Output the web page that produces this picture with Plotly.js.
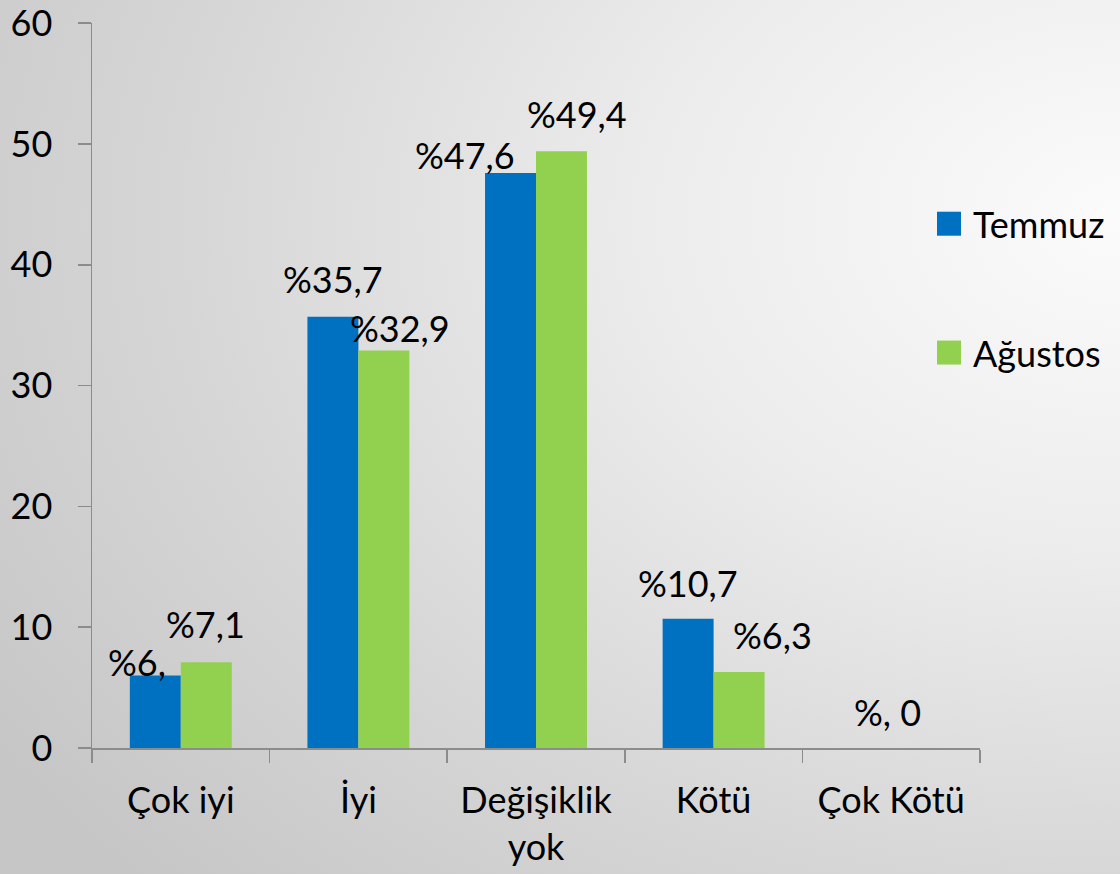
<!DOCTYPE html>
<html>
<head>
<meta charset="utf-8">
<script src="https://cdn.plot.ly/plotly-3.0.1.min.js"></script>
<style>
html, body { margin: 0; padding: 0; width: 1120px; height: 874px; overflow: hidden; }
body { background: radial-gradient(ellipse 120% 110% at 100% 25%, #fbfbfb 0%, #ececec 35%, #d6d6d6 70%, #c6c6c6 100%); }
#chart { width: 1120px; height: 874px; }
</style>
</head>
<body>
<div id="chart"></div>
<script>
// ---- data ----
const categories = ["Çok iyi", "İyi", "Değişiklik<br>yok", "Kötü", "Çok Kötü"];
const seriesNames = ["Temmuz", "Ağustos"];
const temmuz = [6.0, 35.7, 47.6, 10.7, 0];
const agustos = [7.1, 32.9, 49.4, 6.3, 0];
const labelsTemmuz = ["%6,", "%35,7", "%47,6", "%10,7", "%, 0"];
const labelsAgustos = ["%7,1", "%32,9", "%49,4", "%6,3", ""];
const yTicks = [0, 10, 20, 30, 40, 50, 60];

// ---- style ----
const colors = ["#0070C0", "#92D050"];
const FONT = "Lato, 'Open Sans', sans-serif";
const FS = 36;
const axisColor = "#8c8c8c";
// label offsets (pixels): horizontal shift from category centre, lift above bar top
const offT = { dx: [-44, -25, -71, -26, -4], dy: [14, 38, 18, 36, 36] };
const offA = { dx: [25, 42, 41, 59, 0], dy: [38, 23, 37, 37, 0] };

const traces = [
  { type: "bar", name: seriesNames[0], x: categories, y: temmuz, marker: { color: colors[0] }, showlegend: false, hoverinfo: "skip" },
  { type: "bar", name: seriesNames[1], x: categories, y: agustos, marker: { color: colors[1] }, showlegend: false, hoverinfo: "skip" }
];

const annotations = [];
function addLabels(vals, labels, off) {
  vals.forEach((v, i) => {
    if (!labels[i]) return;
    annotations.push({
      x: categories[i], y: v, xref: "x", yref: "y",
      text: labels[i], showarrow: false,
      xanchor: "center", yanchor: "middle",
      xshift: off.dx[i], yshift: off.dy[i],
      font: { family: FONT, size: FS, color: "#000" }
    });
  });
}
addLabels(temmuz, labelsTemmuz, offT);
addLabels(agustos, labelsAgustos, offA);

// manual legend (large square markers)
const legY = [[0.7066, 0.7397], [0.5289, 0.5620]];
const shapes = [];
seriesNames.forEach((n, k) => {
  shapes.push({
    type: "rect", xref: "paper", yref: "paper",
    x0: 0.9516, x1: 0.9786, y0: legY[k][0], y1: legY[k][1],
    fillcolor: colors[k], line: { width: 0 }
  });
  annotations.push({
    xref: "paper", yref: "paper", x: 0.99, y: (legY[k][0] + legY[k][1]) / 2,
    xanchor: "left", yanchor: "middle", showarrow: false, text: n,
    font: { family: FONT, size: FS, color: "#000" }
  });
});

const layout = {
  width: 1120, height: 874,
  margin: { l: 92, r: 140, t: 23, b: 126, pad: 0 },
  paper_bgcolor: "rgba(0,0,0,0)",
  plot_bgcolor: "rgba(0,0,0,0)",
  barmode: "group",
  bargap: 0.426,
  bargroupgap: 0,
  showlegend: false,
  font: { family: FONT, size: FS, color: "#000" },
  xaxis: {
    type: "category",
    showline: true, linecolor: axisColor, linewidth: 1.5,
    ticks: "outside", tickson: "boundaries", ticklen: 13, tickcolor: axisColor, tickwidth: 1.5,
    tickfont: { family: FONT, size: FS, color: "#000" },
    ticklabelstandoff: 20,
    showgrid: false, zeroline: false, fixedrange: true
  },
  yaxis: {
    range: [0, 60.02],
    tickmode: "array", tickvals: yTicks, ticktext: yTicks.map(String),
    showline: true, linecolor: axisColor, linewidth: 1.5,
    ticks: "outside", ticklen: 13, tickcolor: axisColor, tickwidth: 1.5,
    tickfont: { family: FONT, size: FS, color: "#000" },
    ticklabelstandoff: 18,
    ticklabeloverflow: "allow",
    showgrid: false, zeroline: false, fixedrange: true
  },
  annotations: annotations,
  shapes: shapes
};

Plotly.newPlot("chart", traces, layout, { displayModeBar: false, staticPlot: true });
</script>
</body>
</html>
